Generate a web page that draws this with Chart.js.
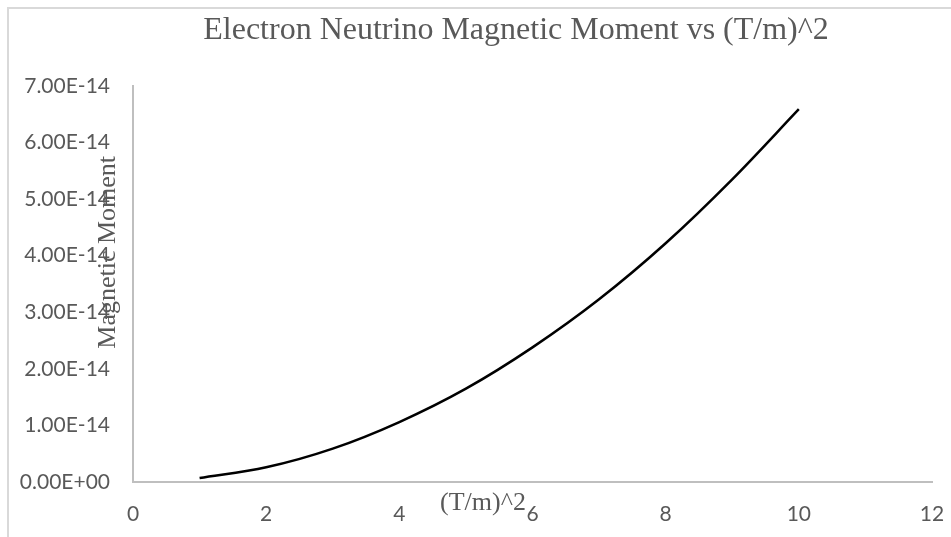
<!DOCTYPE html>
<html>
<head>
<meta charset="utf-8">
<script src="https://cdn.jsdelivr.net/npm/chart.js@4/dist/chart.umd.min.js"></script>
<style>
  html, body { margin: 0; padding: 0; background: #ffffff; }
  #wrap { position: relative; width: 951px; height: 537px; overflow: hidden; }
  #frame { position: absolute; left: 7px; top: 7px; width: 1000px; height: 600px;
           border-left: 2px solid #d9d9d9; border-top: 2px solid #d9d9d9; box-sizing: border-box; }
  canvas { position: absolute; left: 0; top: 0; }
</style>
</head>
<body>
<div id="wrap">
  <div id="frame"></div>
  <canvas id="c" width="951" height="537"></canvas>
</div>
<script>
// Data
const xValues = [1, 2, 3, 4, 5, 6, 7, 8, 9, 10];
const magneticMoment = [0.07e-14, 0.26e-14, 0.59e-14, 1.06e-14, 1.65e-14, 2.38e-14, 3.23e-14, 4.22e-14, 5.35e-14, 6.59e-14];
const yTickLabels = ['0.00E+00', '1.00E-14', '2.00E-14', '3.00E-14', '4.00E-14', '5.00E-14', '6.00E-14', '7.00E-14'];
const xTickLabels = ['0', '2', '4', '6', '8', '10', '12'];
const chartTitle = 'Electron Neutrino Magnetic Moment vs (T/m)^2';
const xTitle = '(T/m)^2';
const yTitle = 'Magnetic Moment';

const points = xValues.map((x, i) => ({ x: x, y: magneticMoment[i] }));

const textPlugin = {
  id: 'excelTexts',
  afterDraw(chart) {
    const ctx = chart.ctx;
    const a = chart.chartArea;
    ctx.save();
    ctx.fillStyle = '#595959';
    ctx.textAlign = 'center';
    ctx.textBaseline = 'middle';
    ctx.font = '32px "Liberation Serif", "Times New Roman", serif';
    ctx.fillText(chartTitle, 516, 31);
    ctx.font = '26px "Liberation Serif", "Times New Roman", serif';
    ctx.fillText(xTitle, a.left + (a.right - a.left) * 0.438, 503);
    ctx.translate(108, a.top + (a.bottom - a.top) * 0.42);
    ctx.rotate(-Math.PI / 2);
    ctx.fillText(yTitle, 0, 0);
    ctx.restore();
  }
};

function build() {
  new Chart(document.getElementById('c'), {
    type: 'scatter',
    data: {
      datasets: [{
        data: points,
        showLine: true,
        borderColor: '#000000',
        borderWidth: 2.5,
        pointRadius: 0,
        pointHoverRadius: 0,
        cubicInterpolationMode: 'monotone',
        fill: false
      }]
    },
    options: {
      responsive: false,
      animation: false,
      devicePixelRatio: 1,
      layout: { padding: { left: 0, right: 19, top: 86, bottom: 0 } },
      plugins: {
        legend: { display: false },
        title: { display: false },
        tooltip: { enabled: false }
      },
      scales: {
        x: {
          type: 'linear',
          min: 0, max: 12,
          afterFit(scale) { scale.height = 55; scale.paddingRight = 0; scale.paddingLeft = 0; },
          grid: { display: true, color: 'rgba(0,0,0,0)', drawTicks: false },
          border: { display: true, color: '#bfbfbf', width: 2 },
          ticks: {
            stepSize: 2,
            padding: 20,
            color: '#595959',
            font: { family: 'Lato', size: 21 },
            callback: (v, i) => xTickLabels[i]
          }
        },
        y: {
          type: 'linear',
          min: 0, max: 7e-14,
          afterFit(scale) { scale.width = 133; },
          grid: { display: true, color: 'rgba(0,0,0,0)', drawTicks: false },
          border: { display: true, color: '#bfbfbf', width: 2 },
          ticks: {
            stepSize: 1e-14,
            padding: 23,
            color: '#595959',
            font: { family: 'Lato', size: 21 },
            callback: (v, i) => yTickLabels[i]
          }
        }
      }
    },
    plugins: [textPlugin]
  });
}

Promise.all([
  document.fonts.load('21px "Lato"'),
  document.fonts.load('32px "Liberation Serif"')
]).then(build, build);
</script>
</body>
</html>
